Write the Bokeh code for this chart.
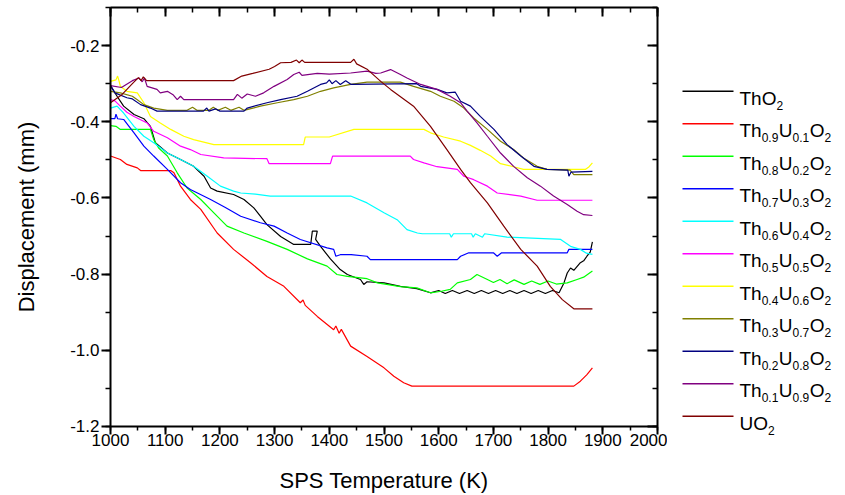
from bokeh.plotting import figure
from bokeh.layouts import row
from bokeh.models import Range1d, SingleIntervalTicker, LinearAxis, PrintfTickFormatter, CustomJSTickFormatter, Label
from bokeh.embed import file_html
from bokeh.resources import INLINE

# ---------------- data ----------------
t_tho2 = [1000, 1012, 1024, 1043, 1061, 1073, 1082, 1104, 1128, 1152, 1171, 1183, 1195, 1225, 1244, 1262, 1274, 1286, 1311, 1335, 1366, 1369, 1378, 1375, 1384, 1402, 1420, 1433, 1457, 1463, 1469, 1500, 1530, 1560, 1585, 1600, 1612, 1625, 1638, 1652, 1665, 1678, 1691, 1704, 1717, 1730, 1743, 1756, 1769, 1782, 1795, 1808, 1820, 1829, 1835, 1841, 1847, 1859, 1865, 1871, 1877, 1881]
d_tho2 = [-0.305, -0.333, -0.359, -0.381, -0.392, -0.412, -0.455, -0.482, -0.499, -0.517, -0.543, -0.574, -0.582, -0.591, -0.604, -0.626, -0.648, -0.670, -0.701, -0.722, -0.722, -0.687, -0.687, -0.709, -0.727, -0.760, -0.788, -0.801, -0.814, -0.827, -0.820, -0.823, -0.832, -0.838, -0.849, -0.843, -0.851, -0.843, -0.851, -0.843, -0.851, -0.843, -0.851, -0.843, -0.851, -0.843, -0.851, -0.843, -0.851, -0.843, -0.851, -0.843, -0.849, -0.823, -0.797, -0.784, -0.790, -0.770, -0.765, -0.753, -0.742, -0.715]

t_u01 = [1000, 1018, 1030, 1049, 1055, 1110, 1116, 1128, 1146, 1165, 1195, 1225, 1256, 1286, 1317, 1347, 1352, 1356, 1378, 1408, 1412, 1418, 1422, 1439, 1469, 1500, 1518, 1536, 1551, 1847, 1859, 1871, 1881]
d_u01 = [-0.490, -0.499, -0.512, -0.521, -0.528, -0.528, -0.534, -0.569, -0.604, -0.630, -0.692, -0.735, -0.770, -0.806, -0.832, -0.875, -0.868, -0.882, -0.911, -0.946, -0.936, -0.955, -0.945, -0.989, -1.016, -1.046, -1.068, -1.085, -1.094, -1.094, -1.081, -1.064, -1.046]

t_u02 = [1000, 1010, 1018, 1073, 1079, 1088, 1104, 1122, 1140, 1165, 1189, 1213, 1244, 1286, 1323, 1360, 1396, 1414, 1433, 1469, 1488, 1530, 1560, 1585, 1605, 1621, 1634, 1658, 1670, 1689, 1700, 1712, 1725, 1738, 1756, 1770, 1785, 1800, 1815, 1835, 1853, 1865, 1881]
d_u02 = [-0.410, -0.412, -0.420, -0.420, -0.447, -0.469, -0.490, -0.534, -0.574, -0.604, -0.639, -0.674, -0.692, -0.714, -0.735, -0.760, -0.779, -0.801, -0.806, -0.812, -0.823, -0.833, -0.836, -0.849, -0.845, -0.840, -0.823, -0.814, -0.801, -0.814, -0.822, -0.814, -0.825, -0.815, -0.827, -0.818, -0.827, -0.818, -0.826, -0.823, -0.814, -0.808, -0.792]

t_u03 = [1000, 1008, 1010, 1013, 1024, 1043, 1061, 1079, 1104, 1128, 1146, 1183, 1210, 1238, 1274, 1299, 1323, 1347, 1396, 1408, 1412, 1420, 1440, 1469, 1475, 1634, 1640, 1655, 1700, 1707, 1715, 1835, 1838, 1881]
d_u03 = [-0.392, -0.392, -0.380, -0.392, -0.394, -0.429, -0.464, -0.490, -0.525, -0.560, -0.578, -0.604, -0.625, -0.648, -0.665, -0.674, -0.692, -0.709, -0.731, -0.735, -0.753, -0.749, -0.749, -0.753, -0.762, -0.762, -0.753, -0.744, -0.744, -0.753, -0.744, -0.744, -0.735, -0.735]

t_u04 = [1000, 1012, 1024, 1043, 1061, 1079, 1104, 1128, 1152, 1177, 1201, 1225, 1238, 1265, 1292, 1439, 1469, 1500, 1524, 1542, 1561, 1570, 1620, 1623, 1627, 1660, 1663, 1667, 1680, 1684, 1725, 1760, 1823, 1841, 1859, 1870, 1881]
d_u04 = [-0.364, -0.359, -0.377, -0.412, -0.438, -0.455, -0.482, -0.499, -0.517, -0.543, -0.569, -0.582, -0.587, -0.590, -0.595, -0.595, -0.613, -0.639, -0.657, -0.683, -0.692, -0.694, -0.694, -0.703, -0.694, -0.694, -0.703, -0.694, -0.703, -0.694, -0.703, -0.705, -0.709, -0.727, -0.735, -0.745, -0.748]

t_u05 = [1000, 1008, 1018, 1030, 1043, 1067, 1079, 1104, 1128, 1146, 1165, 1207, 1286, 1290, 1402, 1406, 1548, 1554, 1573, 1597, 1634, 1646, 1664, 1689, 1707, 1750, 1780, 1881]
d_u05 = [-0.342, -0.345, -0.359, -0.375, -0.386, -0.403, -0.425, -0.442, -0.464, -0.473, -0.486, -0.495, -0.497, -0.510, -0.510, -0.490, -0.490, -0.499, -0.508, -0.518, -0.525, -0.543, -0.552, -0.569, -0.587, -0.595, -0.606, -0.606]

t_u06 = [1000, 1010, 1013, 1016, 1018, 1030, 1049, 1061, 1073, 1091, 1110, 1134, 1152, 1189, 1353, 1356, 1400, 1445, 1573, 1585, 1609, 1640, 1658, 1676, 1695, 1713, 1737, 1755, 1868, 1875, 1881]
d_u06 = [-0.294, -0.290, -0.280, -0.295, -0.307, -0.320, -0.324, -0.350, -0.386, -0.403, -0.420, -0.438, -0.447, -0.460, -0.460, -0.440, -0.440, -0.420, -0.420, -0.429, -0.440, -0.451, -0.462, -0.475, -0.490, -0.510, -0.518, -0.525, -0.525, -0.518, -0.508]

t_u07 = [1000, 1018, 1040, 1049, 1061, 1079, 1104, 1140, 1150, 1158, 1180, 1188, 1196, 1210, 1220, 1235, 1244, 1274, 1305, 1335, 1360, 1384, 1408, 1439, 1469, 1530, 1554, 1585, 1603, 1628, 1646, 1664, 1689, 1713, 1737, 1755, 1780, 1798, 1840, 1847, 1881]
d_u07 = [-0.320, -0.324, -0.333, -0.342, -0.355, -0.364, -0.370, -0.370, -0.362, -0.370, -0.370, -0.362, -0.370, -0.362, -0.370, -0.362, -0.370, -0.359, -0.350, -0.342, -0.333, -0.320, -0.311, -0.302, -0.296, -0.296, -0.307, -0.320, -0.333, -0.346, -0.364, -0.390, -0.420, -0.451, -0.473, -0.495, -0.517, -0.525, -0.527, -0.539, -0.539]

t_u08 = [1000, 1008, 1030, 1040, 1055, 1073, 1085, 1170, 1176, 1180, 1192, 1200, 1244, 1250, 1286, 1311, 1341, 1360, 1384, 1395, 1400, 1405, 1412, 1420, 1430, 1440, 1560, 1567, 1597, 1615, 1630, 1640, 1658, 1676, 1701, 1725, 1750, 1774, 1798, 1836, 1838, 1842, 1881]
d_u08 = [-0.305, -0.324, -0.337, -0.340, -0.355, -0.364, -0.372, -0.372, -0.364, -0.372, -0.366, -0.372, -0.372, -0.364, -0.350, -0.342, -0.333, -0.320, -0.302, -0.298, -0.290, -0.300, -0.292, -0.302, -0.292, -0.302, -0.300, -0.307, -0.315, -0.324, -0.322, -0.346, -0.359, -0.386, -0.420, -0.460, -0.490, -0.517, -0.525, -0.527, -0.543, -0.532, -0.530]

t_u09 = [1000, 1020, 1040, 1052, 1058, 1062, 1067, 1085, 1091, 1104, 1115, 1122, 1128, 1134, 1225, 1232, 1240, 1250, 1265, 1280, 1299, 1323, 1335, 1345, 1350, 1378, 1400, 1439, 1469, 1485, 1494, 1512, 1530, 1542, 1567, 1597, 1621, 1640, 1652, 1670, 1689, 1713, 1737, 1762, 1786, 1810, 1835, 1853, 1865, 1881]
d_u09 = [-0.305, -0.310, -0.292, -0.285, -0.295, -0.285, -0.307, -0.315, -0.324, -0.320, -0.330, -0.342, -0.333, -0.342, -0.342, -0.328, -0.338, -0.327, -0.333, -0.324, -0.307, -0.289, -0.276, -0.270, -0.278, -0.273, -0.275, -0.272, -0.267, -0.273, -0.272, -0.263, -0.276, -0.285, -0.302, -0.315, -0.333, -0.350, -0.372, -0.403, -0.438, -0.482, -0.517, -0.547, -0.569, -0.595, -0.617, -0.635, -0.644, -0.646]

t_uo2 = [1000, 1020, 1040, 1051, 1056, 1060, 1066, 1082, 1225, 1240, 1260, 1290, 1300, 1311, 1330, 1340, 1345, 1350, 1355, 1439, 1445, 1450, 1470, 1494, 1512, 1554, 1585, 1615, 1640, 1658, 1689, 1719, 1750, 1780, 1804, 1826, 1847, 1881]
d_uo2 = [-0.350, -0.330, -0.300, -0.284, -0.292, -0.282, -0.292, -0.292, -0.292, -0.280, -0.273, -0.262, -0.255, -0.245, -0.244, -0.238, -0.245, -0.238, -0.244, -0.244, -0.236, -0.248, -0.263, -0.294, -0.315, -0.359, -0.412, -0.473, -0.525, -0.560, -0.613, -0.674, -0.735, -0.779, -0.832, -0.867, -0.891, -0.891]

th_frac = [None, "0.9", "0.8", "0.7", "0.6", "0.5", "0.4", "0.3", "0.2", "0.1", None]
u_frac = [None, "0.1", "0.2", "0.3", "0.4", "0.5", "0.6", "0.7", "0.8", "0.9", None]
series_t = [t_tho2, t_u01, t_u02, t_u03, t_u04, t_u05, t_u06, t_u07, t_u08, t_u09, t_uo2]
series_d = [d_tho2, d_u01, d_u02, d_u03, d_u04, d_u05, d_u06, d_u07, d_u08, d_u09, d_uo2]
colors = ["#000000", "#ff0000", "#00ff00", "#0000ff", "#00ffff", "#ff00ff",
          "#ffff00", "#808000", "#000080", "#800080", "#800000"]

x_label = "SPS Temperature (K)"
y_label = "Displacement (mm)"

FONT = "Liberation Sans"
H = 495
TOP, BOTTOM = 7, 68          # frame spans page y 7 .. 427

# ---------------- main plot ----------------
p = figure(width=667, height=H, x_range=Range1d(1000, 2000), y_range=Range1d(-1.20001, -0.1),
           output_backend="svg", toolbar_location=None,
           min_border_left=110, min_border_right=10, min_border_top=TOP, min_border_bottom=BOTTOM,
           x_axis_label=x_label, y_axis_label=y_label)
p.frame_align = False
p.xgrid.visible = False
p.ygrid.visible = False
p.outline_line_color = None
p.background_fill_color = "white"
p.border_fill_color = "white"

for t, d, c in zip(series_t, series_d, colors):
    p.line(t, d, line_color=c, line_width=1.2)

xt = SingleIntervalTicker(interval=100, num_minor_ticks=2)
yt = SingleIntervalTicker(interval=0.2, num_minor_ticks=2)

for ax in p.xaxis:
    ax.ticker = xt
    ax.major_tick_out = 8
    ax.minor_tick_out = 4
    ax.major_tick_in = 0
    ax.minor_tick_in = 0
    ax.major_label_standoff = -1
    ax.axis_label_standoff = 19

for ax in p.yaxis:
    ax.ticker = yt
    ax.formatter = PrintfTickFormatter(format="%.1f")
    ax.major_tick_out = 9
    ax.minor_tick_out = 5
    ax.major_tick_in = 0
    ax.minor_tick_in = 0
    ax.major_label_standoff = 2
    ax.axis_label_standoff = 28

blank = CustomJSTickFormatter(code="return ''")
top_ax = LinearAxis(ticker=SingleIntervalTicker(interval=100, num_minor_ticks=2), formatter=blank,
                    major_tick_in=9, minor_tick_in=5, major_tick_out=0, minor_tick_out=0,
                    major_label_standoff=0)
right_ax = LinearAxis(ticker=SingleIntervalTicker(interval=0.2, num_minor_ticks=2), formatter=blank,
                      major_tick_in=10, minor_tick_in=5, major_tick_out=0, minor_tick_out=0,
                      major_label_standoff=0)
p.add_layout(top_ax, "above")
p.add_layout(right_ax, "right")

for ax in p.xaxis + p.yaxis + [top_ax, right_ax]:
    ax.axis_line_width = 2
    ax.major_tick_line_width = 2
    ax.minor_tick_line_width = 1.5
    ax.axis_line_color = "black"
    ax.major_tick_line_color = "black"
    ax.minor_tick_line_color = "black"
    ax.major_label_text_font = FONT
    ax.major_label_text_font_size = "17px"
    ax.major_label_text_color = "black"
    ax.axis_label_text_font = FONT
    ax.axis_label_text_font_size = "22px"
    ax.axis_label_text_font_style = "normal"
    ax.axis_label_text_color = "black"

# ---------------- legend panel (coordinates = page pixels) ----------------
LX0 = 667
LW = 176
lf = figure(width=LW, height=H, x_range=Range1d(LX0, LX0 + LW), y_range=Range1d(H, 0),
            output_backend="svg", toolbar_location=None, x_axis_type=None, y_axis_type=None,
            min_border_left=0, min_border_right=0, min_border_top=0, min_border_bottom=0)
lf.frame_align = False
lf.outline_line_color = None
lf.xgrid.visible = False
lf.ygrid.visible = False
lf.background_fill_color = "white"
lf.border_fill_color = "white"

EM = {"T": 0.611, "h": 0.556, "U": 0.722, "O": 0.778, ".": 0.278}
def tw(s, size):
    return sum(EM.get(ch, 0.556) for ch in s) * size

MAIN, SUB = 19, 12
seg_y = []
for i in range(len(colors)):
    ry = 90.7 + 32.5 * i
    seg_y.append(ry)
    base = ry + 7
    a, b = th_frac[i], u_frac[i]
    if i == 0:
        pieces = [("Th", 0), ("O", 0), ("2", 1)]
    elif i == len(colors) - 1:
        pieces = [("U", 0), ("O", 0), ("2", 1)]
    else:
        pieces = [("Th", 0), (a, 1), ("U", 0), (b, 1), ("O", 0), ("2", 1)]
    x = 739.0
    for s, is_sub in pieces:
        size = SUB if is_sub else MAIN
        lf.add_layout(Label(x=x, y=base + (7 if is_sub else 0), text=s,
                            text_font=FONT, text_font_size=f"{size}px",
                            text_baseline="alphabetic", text_align="left", text_color="black"))
        x += tw(s, size) + (0.5 if is_sub else 0)

lf.segment(x0=[682] * len(colors), x1=[733] * len(colors), y0=seg_y, y1=seg_y,
           line_color=colors, line_width=1.5)

layout = row(p, lf)
open("out.html", "w").write(file_html(layout, INLINE))
